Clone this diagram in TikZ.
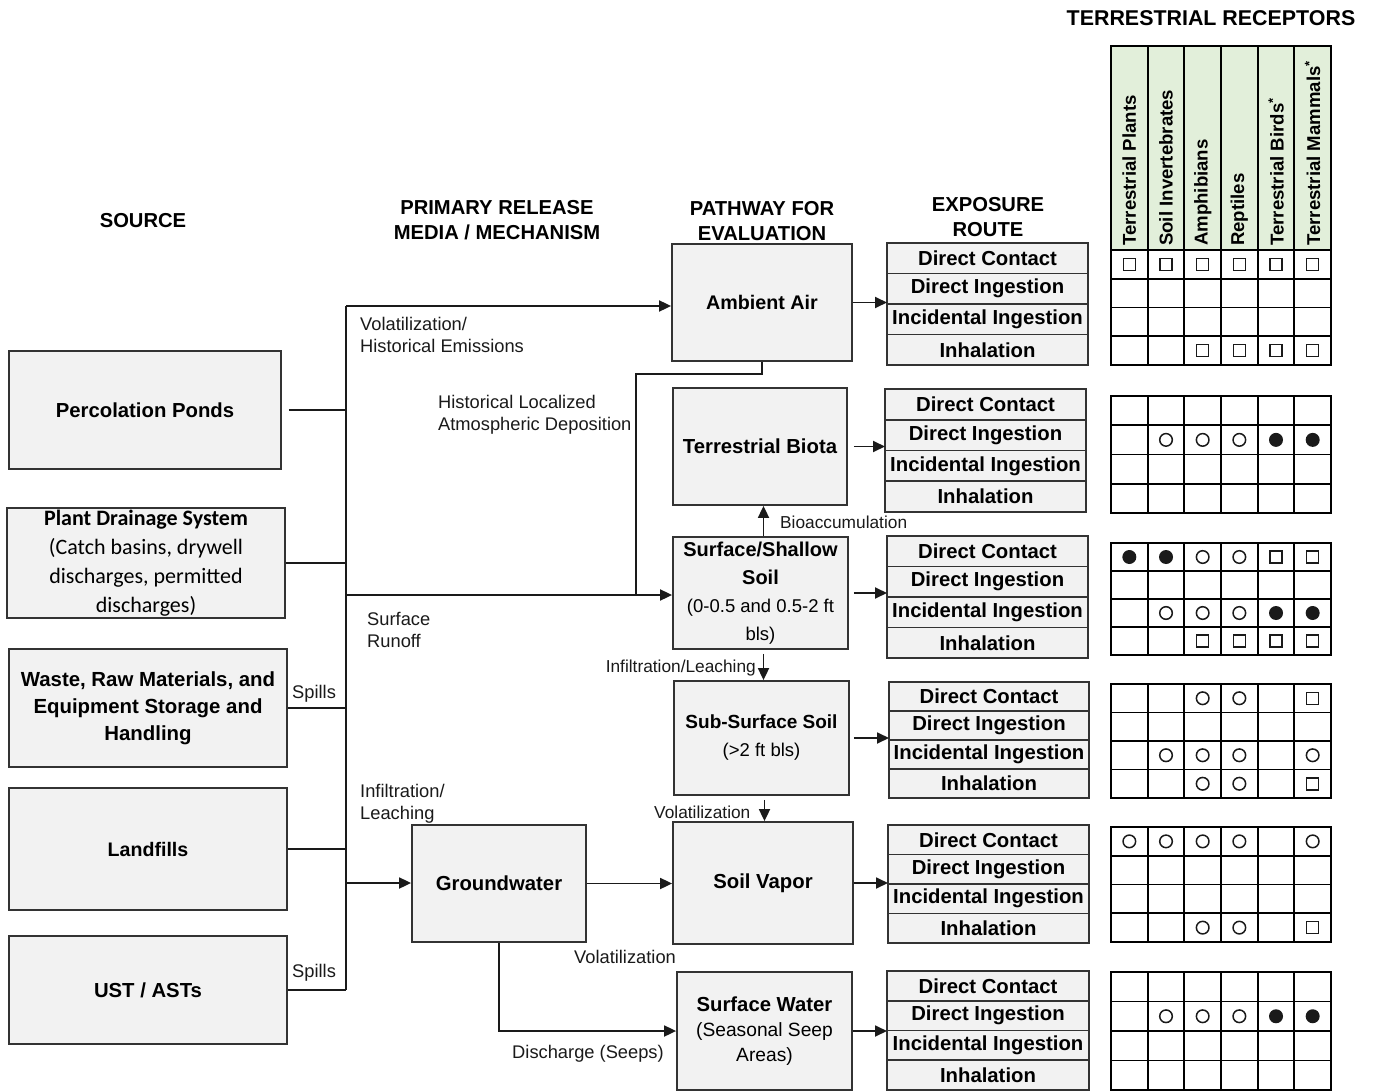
\documentclass[tikz,border=0pt]{standalone}
\usepackage{fontspec}
\setmainfont{Liberation Sans}
\newfontfamily\calibri{Carlito}
\usetikzlibrary{arrows.meta,calc}
\definecolor{boxfill}{HTML}{F2F2F2}
\definecolor{boxline}{HTML}{333333}
\definecolor{linec}{HTML}{1A1A1A}
\definecolor{hdrgreen}{HTML}{E2EFDA}
\newcommand\FS[2]{\fontsize{#1}{#2}\selectfont}
\newcommand\RouteStack[5]{%
  \node[rcell,minimum width=#4,minimum height=#5,anchor=north west] (#1a) at (#2,#3) {Direct Contact};
  \node[rcell,minimum width=#4,minimum height=#5,anchor=north] (#1b) at (#1a.south) {Direct Ingestion};
  \node[rcell,minimum width=#4,minimum height=#5,anchor=north] (#1c) at (#1b.south) {Incidental Ingestion};
  \node[rcell,minimum width=#4,minimum height=#5,anchor=north] (#1d) at (#1c.south) {Inhalation};}
\newcommand\MarkAt[3]{%
  \ifcase#3\or
    \draw[symline] (#1,#2) circle (6.3pt);\or
    \fill[linec] (#1,#2) circle (7pt);\or
    \draw[symline] (#1,#2) ++(-6pt,-6pt) rectangle ++(12pt,12pt);\fi}
\newcommand\RecGrid[3]{%
  \draw[gridline] (1111,#1) rectangle (1331,{#1+4*#2});
  \foreach \k in {1,...,5} \draw[gridline] ({1111+36.667*\k},#1) -- ({1111+36.667*\k},{#1+4*#2});
  \foreach \k in {1,2,3} \draw[gridline] (1111,{#1+#2*\k}) -- (1331,{#1+#2*\k});
  \foreach \c/\r/\t in {#3} {%
    \pgfmathsetmacro\mx{1111+36.667*(\c-0.5)}%
    \pgfmathsetmacro\my{#1+#2*(\r-0.5)}%
    \MarkAt{\mx}{\my}{\t}}}
\begin{document}
\begin{tikzpicture}[x=1pt,y=-1pt,
  box/.style={draw=boxline,fill=boxfill,line width=1.8pt,inner sep=2pt,align=center,font=\bfseries\FS{20.3}{27}},
  rcell/.style={draw=boxline,fill=boxfill,line width=1.6pt,inner sep=0pt,outer sep=0pt,font=\bfseries\FS{20.3}{22}},
  conn/.style={draw=linec,line width=1.8pt},
  arr/.style={draw=linec,line width=1.8pt,-{Triangle[length=12pt,width=11pt]}},
  lbl/.style={font=\FS{18.3}{21.5},align=left,inner sep=0pt,text=linec},
  slbl/.style={font=\FS{17.3}{20},align=left,inner sep=0pt,text=linec},
  hdr/.style={font=\bfseries\FS{20.2}{25},align=center,inner sep=0pt},
  rot/.style={rotate=90,anchor=west,font=\bfseries\FS{18.6}{20},inner sep=0pt},
  gridline/.style={draw=black,line width=1.8pt},
  symline/.style={draw=linec,line width=1.5pt}]
\fill[white] (0,0) rectangle (1373,1091);
\useasboundingbox (0,0) rectangle (1373,1091);

% headers
\node[hdr] (hSrc) at (143,221) {SOURCE};
\node[hdr] (hRel) at (497,220.5) {PRIMARY RELEASE\\MEDIA / MECHANISM};
\node[hdr] (hPath) at (762,221) {PATHWAY FOR\\EVALUATION};
\node[hdr] (hExp) at (988,217) {EXPOSURE\\ROUTE};
\node[hdr,font=\bfseries\FS{21.4}{25}] (hRec) at (1211,18) {TERRESTRIAL RECEPTORS};

% sources
\node[box,minimum width=272,minimum height=118] (src1) at (145,410) {Percolation Ponds};
\node[box,minimum width=278,minimum height=110,font=\calibri\FS{22}{29}] (src2) at (146,563)
  {\textbf{Plant Drainage System}\\(Catch basins, drywell\\discharges, permitted\\discharges)};
\node[box,minimum width=278,minimum height=118,font=\bfseries\FS{20.4}{27}] (src3) at (148,708)
  {Waste, Raw Materials, and\\Equipment Storage and\\Handling};
\node[box,minimum width=278,minimum height=122,font=\bfseries\FS{19.6}{27}] (src4) at (148,849) {Landfills};
\node[box,minimum width=278,minimum height=108] (src5) at (148,990) {UST / ASTs};

% media / pathway boxes
\node[box,minimum width=174,minimum height=117] (gw) at (499,883.5) {Groundwater};
\node[box,minimum width=180,minimum height=117,font=\bfseries\FS{19.7}{27}] (air) at (762,302.5) {Ambient Air};
\node[box,minimum width=174,minimum height=117] (biota) at (760,446.5) {Terrestrial Biota};
\node[box,minimum width=175,minimum height=112,font=\bfseries\FS{20}{28}] (soil) at (760.5,593)
  {Surface/Shallow\\Soil\\{\mdseries\FS{18.5}{25}(0-0.5 and 0.5-2 ft}\\{\mdseries\FS{18.5}{25}bls)}};
\node[box,minimum width=175,minimum height=114,font=\bfseries\FS{19}{28}] (sub) at (761.5,738)
  {Sub-Surface Soil\\{\mdseries\FS{18.5}{25}(>2 ft bls)}};
\node[box,minimum width=180,minimum height=122] (vapor) at (763,883) {Soil Vapor};
\node[box,minimum width=175,minimum height=118,font=\bfseries\FS{20.3}{25}] (water) at (764.5,1031)
  {Surface Water\\{\mdseries\FS{19.2}{25}(Seasonal Seep}\\{\mdseries\FS{19.2}{25}Areas)}};

% exposure route stacks
\RouteStack{ra}{887}{243}{201}{30.5}
\RouteStack{rb}{885}{389}{201}{30.75}
\RouteStack{rc}{887}{536}{201}{30.5}
\RouteStack{rd}{889}{682}{200}{29}
\RouteStack{re}{888}{825}{201}{29.5}
\RouteStack{rf}{887}{971}{202}{29.75}

% bus and connectors
\coordinate (busTop) at (346,306);
\coordinate (busRun) at (346,595);
\coordinate (busGW) at (346,883);
\coordinate (busBot) at (346,990);
\coordinate (dep) at (636,374);
\draw[conn] (busTop) -- (busBot);
\draw[conn] ([xshift=7]src1.east) -- (src1.east -| busTop);
\draw[conn] (src2.east) -- (src2.east -| busTop);
\draw[conn] (src3.east) -- (src3.east -| busTop);
\draw[conn] (src4.east) -- (src4.east -| busTop);
\draw[conn] (src5.east) -- (busBot);
\draw[arr] (busTop) -- (air.west |- busTop);
\draw[arr] (busRun) -- (soil.west |- busRun);
\draw[conn] (air.south) |- (dep) -- (dep |- busRun);
\draw[arr] (busGW) -- (gw.west |- busGW);
\draw[arr] (gw.east) -- (vapor.west |- gw.east);
\draw[arr] (gw.south) |- (water.west);
\draw[arr] ([xshift=3]soil.north) -- ([xshift=3]soil.north |- biota.south);
\draw[arr] ([xshift=3,yshift=-4]soil.south) -- ([xshift=3]soil.south |- sub.north);
\draw[arr] ([xshift=3,yshift=-4]sub.south) -- ([xshift=3]sub.south |- vapor.north);

% pathway -> exposure routes
\draw[arr] (air.east) -- (air.east -| raa.west);
\draw[arr] ([xshift=6]biota.east) -- (biota.east -| rba.west);
\draw[arr] ([xshift=5]soil.east) -- (soil.east -| rca.west);
\draw[arr] ([xshift=4]sub.east) -- (sub.east -| rda.west);
\draw[arr] (vapor.east) -- (vapor.east -| rea.west);
\draw[arr] (water.east) -- (water.east -| rfa.west);

% labels (base = last line's baseline)
\node[lbl,anchor=base west] (lVol) at (360,352) {Volatilization/\\Historical Emissions};
\node[lbl,anchor=base west] (lDep) at (438,430) {Historical Localized\\Atmospheric Deposition};
\node[lbl,anchor=base west] (lRun) at (367,647) {Surface\\Runoff};
\node[lbl,anchor=base west] (lSp1) at (292,698) {Spills};
\node[lbl,anchor=base west] (lSp2) at (292,977) {Spills};
\node[lbl,anchor=base west] (lInf) at (360,819) {Infiltration/\\Leaching};
\node[lbl,anchor=base] (lVol2) at (625,963) {Volatilization};
\node[lbl,anchor=base] (lDis) at (588,1058) {Discharge (Seeps)};
\node[slbl,anchor=base west] (lBio) at (780,528) {Bioaccumulation};
\node[slbl,anchor=base east] (lInf2) at (756,672) {Infiltration/Leaching};
\node[slbl,anchor=base west] (lVol3) at (654,818) {Volatilization};

% receptor header
\fill[hdrgreen] (1111,46) rectangle (1331,250);
\draw[gridline] (1111,46) rectangle (1331,250);
\foreach \k in {1,...,5} \draw[gridline] ({1111+36.667*\k},46) -- ({1111+36.667*\k},250);
\node[rot] (c1) at (1129.3,246) {Terrestrial Plants};
\node[rot] (c2) at (1166,246) {Soil Invertebrates};
\node[rot] (c3) at (1202.7,246) {Amphibians};
\node[rot] (c4) at (1239.3,246) {Reptiles};
\node[rot] (c5) at (1276,246) {Terrestrial Birds\textsuperscript{*}};
\node[rot] (c6) at (1312.7,246) {Terrestrial Mammals\textsuperscript{*}};

% receptor grids (1 open circle, 2 filled circle, 3 open square)
\RecGrid{250}{28.75}{1/1/3,2/1/3,3/1/3,4/1/3,5/1/3,6/1/3,3/4/3,4/4/3,5/4/3,6/4/3}
\RecGrid{396}{29.25}{2/2/1,3/2/1,4/2/1,5/2/2,6/2/2}
\RecGrid{543}{28}{1/1/2,2/1/2,3/1/1,4/1/1,5/1/3,6/1/3,2/3/1,3/3/1,4/3/1,5/3/2,6/3/2,3/4/3,4/4/3,5/4/3,6/4/3}
\RecGrid{684}{28.5}{3/1/1,4/1/1,6/1/3,2/3/1,3/3/1,4/3/1,6/3/1,3/4/1,4/4/1,6/4/3}
\RecGrid{827}{28.75}{1/1/1,2/1/1,3/1/1,4/1/1,6/1/1,3/4/1,4/4/1,6/4/3}
\RecGrid{972}{29.5}{2/2/1,3/2/1,4/2/1,5/2/2,6/2/2}
\end{tikzpicture}
\end{document}
